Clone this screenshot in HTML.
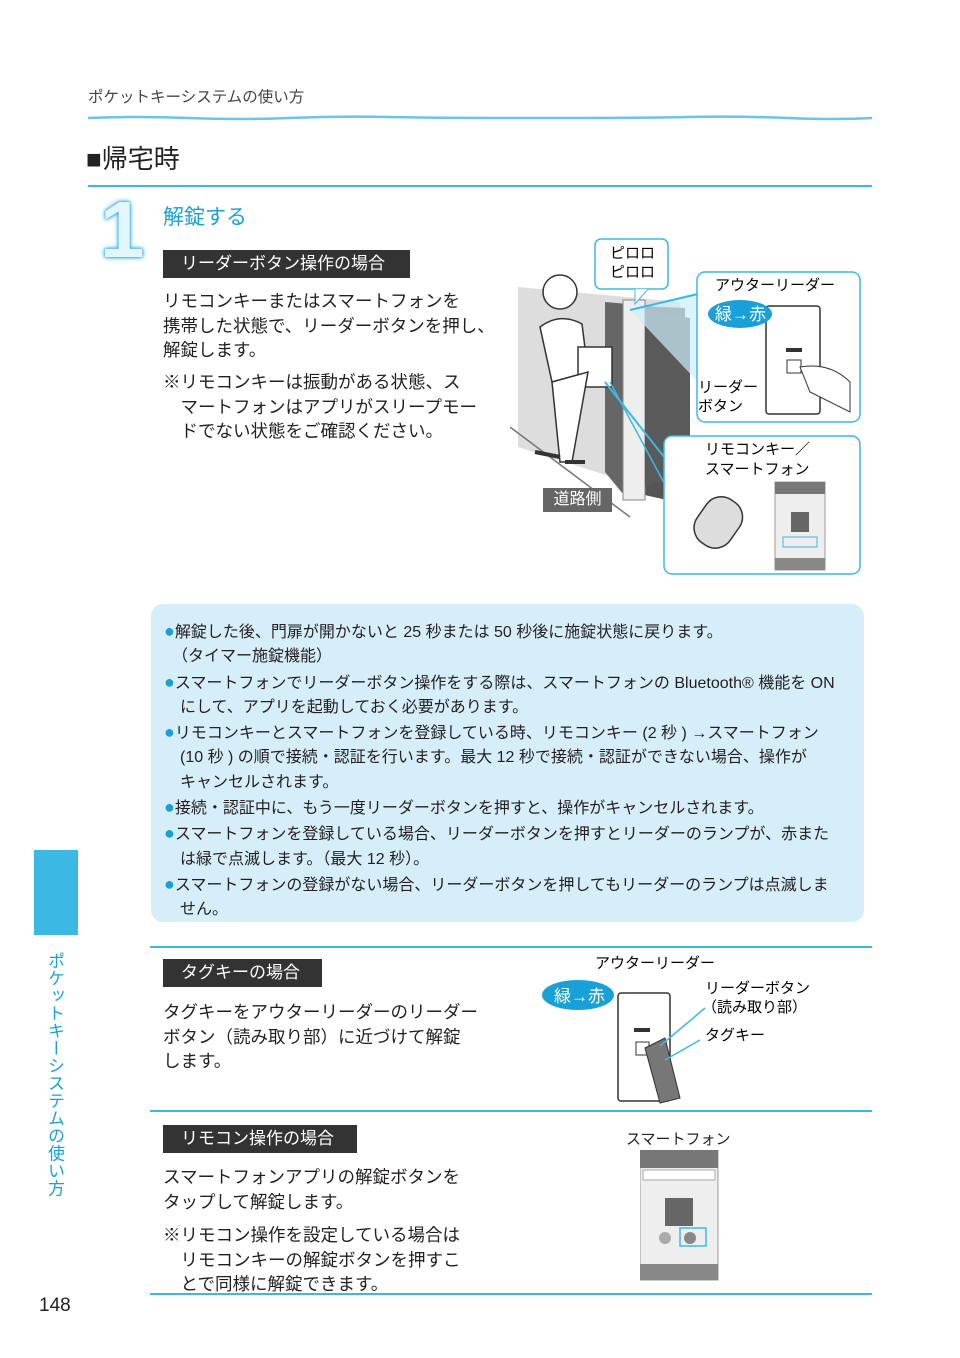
<!DOCTYPE html>
<html><head><meta charset="utf-8"><style>
body{margin:0;width:960px;height:1358px;position:relative;background:#fff;font-family:"Liberation Sans","Noto Sans CJK JP",sans-serif;color:#231f20;overflow:hidden}
.a{position:absolute;white-space:nowrap}
.lab{position:absolute;background:#333;color:#fff;font-size:17px;line-height:28px;padding-left:18px}
.p{font-size:17.5px;line-height:24.5px}
.b{font-size:16px;line-height:24.3px}
.dot{color:#1aa0d8;font-size:18px}
</style></head><body>
<div class="a" style="left:88px;top:85px;font-size:15.5px;color:#444">ポケットキーシステムの使い方</div>
<svg class="a" style="left:88px;top:114px" width="784" height="8"><path d="M0 4 Q50 2 100 4 T200 4 T300 3 T400 4 T500 4 T600 3 T700 4 T784 4" stroke="#6cc4e8" stroke-width="2.5" fill="none"/></svg>
<div class="a" style="left:86px;top:139px;font-size:26px;color:#222">■帰宅時</div>
<div class="a" style="left:88px;top:185px;width:784px;height:2px;background:#3bb8e4"></div>
<div class="a" style="left:100px;top:184px;font-size:80px;font-weight:bold;color:#e4f6fd;text-shadow:0 0 6px #39b4ea,0 0 3px #39b4ea,0 0 2px #39b4ea">1</div>
<div class="a" style="left:163px;top:201px;font-size:21px;color:#1aa0d8">解錠する</div>
<div class="lab" style="left:163px;top:250px;width:229px">リーダーボタン操作の場合</div>
<div class="a p" style="left:163px;top:289px">リモコンキーまたはスマートフォンを<br>携帯した状態で、リーダーボタンを押し、<br>解錠します。</div>
<div class="a p" style="left:163px;top:370px">※リモコンキーは振動がある状態、ス<br>　マートフォンはアプリがスリープモー<br>　ドでない状態をご確認ください。</div>

<svg class="a" style="left:510px;top:232px" width="360" height="348">
<path d="M8 55 L170 70 L180 270 L8 215Z" fill="#ddd"/>
<path d="M95 70 L118 72 L118 268 L95 240Z" fill="#666"/>
<path d="M130 74 L175 76 L175 272 L130 262Z" fill="#555"/>
<rect x="113" y="68" width="22" height="200" fill="#eee" stroke="#888"/>
<path d="M135 78 L180 86 L180 240 L135 255Z" fill="#5a5a5a"/>
<line x1="0" y1="195" x2="120" y2="285" stroke="#777" stroke-width="1.5"/>
<circle cx="50" cy="60" r="17" fill="#fff" stroke="#333" stroke-width="1.5"/>
<path d="M30 95 Q50 80 72 92 L78 140 L42 150Z" fill="#fff" stroke="#333" stroke-width="1.5"/>
<rect x="68" y="115" width="34" height="40" fill="#fff" stroke="#333" stroke-width="1.5"/>
<path d="M42 150 L78 140 L62 230 L50 230Z" fill="#fff" stroke="#333" stroke-width="1.5"/>
<path d="M25 220 L50 225 M55 230 L75 230" stroke="#333" stroke-width="4"/>
<rect x="85" y="7" width="73" height="50" rx="6" fill="#fff" stroke="#3bb8e4" stroke-width="1.5"/>
<text x="100" y="26" font-size="15">ピロロ</text><text x="100" y="45" font-size="15">ピロロ</text>
<path d="M125 57 L125 72 L138 57" fill="#fff" stroke="#3bb8e4"/>
<polygon points="120,78 188,60 188,150" fill="#cfeefa" opacity=".7"/>
<line x1="120" y1="78" x2="188" y2="62" stroke="#3bb8e4" stroke-width="2"/>
<line x1="95" y1="150" x2="188" y2="268" stroke="#3bb8e4" stroke-width="2"/>
<line x1="100" y1="150" x2="160" y2="262" stroke="#3bb8e4" stroke-width="1.5"/>
<rect x="187" y="40" width="163" height="150" rx="8" fill="#fff" stroke="#3bb8e4" stroke-width="1.5"/>
<text x="205" y="58" font-size="15">アウターリーダー</text>
<rect x="256" y="74" width="54" height="108" rx="3" fill="#fff" stroke="#333" stroke-width="1.5"/>
<ellipse cx="230" cy="82" rx="32" ry="14" fill="#1aa0d8"/>
<text x="205" y="88" font-size="17" fill="#fff">緑→赤</text>
<rect x="276" y="116" width="16" height="4" fill="#333"/>
<rect x="277" y="128" width="14" height="13" fill="#fff" stroke="#333"/>
<text x="188" y="160" font-size="15">リーダー</text><text x="188" y="179" font-size="15">ボタン</text>
<path d="M290 135 Q320 130 340 150 L340 180 L300 160Z" fill="#fff" stroke="#333"/>
<rect x="154" y="204" width="196" height="138" rx="8" fill="#fff" stroke="#3bb8e4" stroke-width="1.5"/>
<text x="195" y="222" font-size="15">リモコンキー／</text><text x="195" y="242" font-size="15">スマートフォン</text>
<g transform="rotate(35 210 288)"><rect x="190" y="265" width="40" height="52" rx="18" fill="#ddd" stroke="#333" stroke-width="1.5"/></g>
<rect x="265" y="250" width="50" height="88" fill="#eee" stroke="#999"/>
<rect x="265" y="250" width="50" height="12" fill="#777"/>
<rect x="281" y="280" width="18" height="20" fill="#666"/>
<rect x="273" y="305" width="34" height="10" fill="none" stroke="#3bb8e4"/>
<rect x="265" y="326" width="50" height="12" fill="#888"/>
</svg>
<div class="a" style="left:543px;top:488px;width:69px;height:24px;background:#666;color:#fff;font-size:16px;line-height:24px;text-align:center">道路側</div>

<div class="a" style="left:151px;top:604px;width:713px;height:318px;background:#d6eefa;border-radius:12px"></div>
<div class="a b" style="left:164px;top:619px"><span class="dot">●</span>解錠した後、門扉が開かないと 25 秒または 50 秒後に施錠状態に戻ります。<br>　（タイマー施錠機能）<br><span class="dot">●</span>スマートフォンでリーダーボタン操作をする際は、スマートフォンの Bluetooth® 機能を ON<br>　にして、アプリを起動しておく必要があります。<br><span class="dot">●</span>リモコンキーとスマートフォンを登録している時、リモコンキー (2 秒 ) →スマートフォン<br>　(10 秒 ) の順で接続・認証を行います。最大 12 秒で接続・認証ができない場合、操作が<br>　キャンセルされます。<br><span class="dot">●</span>接続・認証中に、もう一度リーダーボタンを押すと、操作がキャンセルされます。<br><span class="dot">●</span>スマートフォンを登録している場合、リーダーボタンを押すとリーダーのランプが、赤また<br>　は緑で点滅します。（最大 12 秒）。<br><span class="dot">●</span>スマートフォンの登録がない場合、リーダーボタンを押してもリーダーのランプは点滅しま<br>　せん。</div>

<div class="a" style="left:150px;top:946px;width:722px;height:1.5px;background:#3bb8e4"></div>
<div class="lab" style="left:163px;top:959px;width:141px">タグキーの場合</div>
<div class="a p" style="left:163px;top:1000px">タグキーをアウターリーダーのリーダー<br>ボタン（読み取り部）に近づけて解錠<br>します。</div>
<svg class="a" style="left:530px;top:948px" width="300" height="160">
<text x="65" y="20" font-size="15">アウターリーダー</text>
<rect x="88" y="45" width="52" height="108" rx="3" fill="#fff" stroke="#333" stroke-width="1.5"/>
<ellipse cx="48" cy="47" rx="36" ry="15" fill="#1aa0d8"/>
<text x="24" y="54" font-size="17" fill="#fff">緑→赤</text>
<rect x="104" y="80" width="16" height="4" fill="#333"/>
<rect x="106" y="94" width="13" height="13" fill="#fff" stroke="#333"/>
<path d="M115 100 L135 90 L150 150 L130 155Z" fill="#777" stroke="#333"/>
<line x1="130" y1="98" x2="175" y2="60" stroke="#3bb8e4" stroke-width="1.5"/>
<line x1="135" y1="112" x2="170" y2="92" stroke="#3bb8e4" stroke-width="1.5"/>
<text x="175" y="45" font-size="15">リーダーボタン</text><text x="172" y="64" font-size="15">（読み取り部）</text>
<text x="175" y="92" font-size="15">タグキー</text>
</svg>
<div class="a" style="left:150px;top:1110px;width:722px;height:1.5px;background:#3bb8e4"></div>
<div class="lab" style="left:163px;top:1125px;width:176px">リモコン操作の場合</div>
<div class="a p" style="left:163px;top:1165px">スマートフォンアプリの解錠ボタンを<br>タップして解錠します。</div>
<div class="a p" style="left:163px;top:1223px">※リモコン操作を設定している場合は<br>　リモコンキーの解錠ボタンを押すこ<br>　とで同様に解錠できます。</div>
<div class="a" style="left:626px;top:1128px;font-size:15px">スマートフォン</div>
<svg class="a" style="left:640px;top:1150px" width="80" height="132">
<rect x="0" y="0" width="78" height="130" fill="#eee" stroke="#999"/>
<rect x="0" y="0" width="78" height="18" fill="#777"/>
<rect x="3" y="20" width="72" height="10" fill="#fff" stroke="#aaa"/>
<rect x="25" y="48" width="28" height="28" fill="#666"/>
<circle cx="25" cy="88" r="6" fill="#aaa"/><circle cx="50" cy="88" r="6" fill="#888"/>
<rect x="40" y="78" width="26" height="18" fill="none" stroke="#3bb8e4" stroke-width="1.5"/>
<rect x="0" y="114" width="78" height="16" fill="#888"/>
</svg>
<div class="a" style="left:150px;top:1293px;width:722px;height:1.5px;background:#3bb8e4"></div>

<div class="a" style="left:34px;top:850px;width:44px;height:85px;background:#3bb8e4"></div>
<div class="a" style="left:45px;top:952px;font-size:17px;line-height:18px;letter-spacing:0.5px;color:#1aa0d8;writing-mode:vertical-rl">ポケットキーシステムの使い方</div>
<div class="a" style="left:39px;top:1295px;font-size:19px;color:#222">148</div>
</body></html>
